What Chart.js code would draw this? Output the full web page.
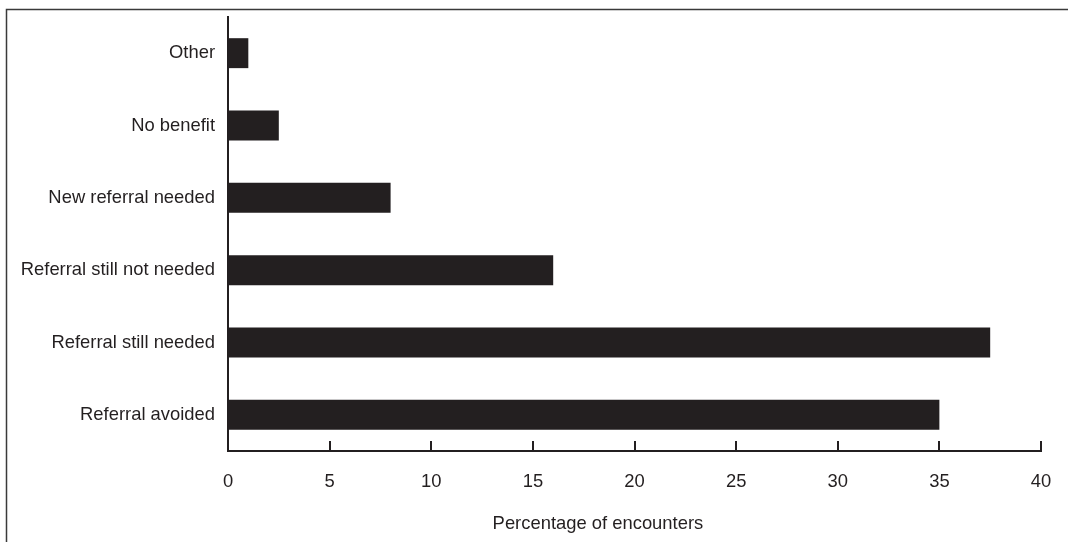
<!DOCTYPE html>
<html>
<head>
<meta charset="utf-8">
<script src="https://cdn.jsdelivr.net/npm/chart.js@4/dist/chart.umd.min.js"></script>
<style>
  html, body { margin: 0; padding: 0; background: #fff; }
  #wrap { width: 1068px; height: 542px; position: relative; }
</style>
</head>
<body>
<div id="wrap"><canvas id="c" width="1068" height="542"></canvas></div>
<script>
const categories = ["Other", "No benefit", "New referral needed", "Referral still not needed", "Referral still needed", "Referral avoided"];
const percentages = [1, 2.5, 8, 16, 37.5, 35];
const xTickValues = [0, 5, 10, 15, 20, 25, 30, 35, 40];
const xAxisTitle = "Percentage of encounters";

const INK = "#231f20";
const FONT = "'Liberation Sans', Arial, Helvetica, sans-serif";

const decorPlugin = {
  id: "decor",
  beforeDraw(chart) {
    const ctx = chart.ctx;
    ctx.save();
    ctx.strokeStyle = "#3a3a3a";
    ctx.lineWidth = 1.5;
    ctx.beginPath();
    ctx.moveTo(6.5, 542);
    ctx.lineTo(6.5, 9.5);
    ctx.lineTo(1068, 9.5);
    ctx.stroke();
    ctx.restore();
  },
  afterDraw(chart) {
    const ctx = chart.ctx;
    const xs = chart.scales.x;
    const area = chart.chartArea;
    ctx.save();
    ctx.strokeStyle = INK;
    ctx.lineWidth = 2;
    xs.ticks.forEach((t, i) => {
      const px = Math.round(xs.getPixelForTick(i));
      ctx.beginPath();
      ctx.moveTo(px, area.bottom);
      ctx.lineTo(px, area.bottom - 10);
      ctx.stroke();
    });
    ctx.fillStyle = INK;
    ctx.font = "18.4px " + FONT;
    ctx.textAlign = "center";
    ctx.textBaseline = "middle";
    ctx.fillText(xAxisTitle, area.left + (area.right - area.left) * 0.455, 524);
    ctx.restore();
  }
};

new Chart(document.getElementById("c"), {
  type: "bar",
  data: {
    labels: categories,
    datasets: [{
      data: percentages,
      backgroundColor: INK,
      borderWidth: 0,
      barPercentage: 0.414,
      categoryPercentage: 1.0
    }]
  },
  options: {
    indexAxis: "y",
    responsive: false,
    animation: false,
    devicePixelRatio: 1,
    layout: { padding: { top: 17, right: 27, left: 0, bottom: 0 } },
    plugins: { legend: { display: false }, tooltip: { enabled: false }, title: { display: false } },
    scales: {
      x: {
        min: 0, max: 40,
        afterBuildTicks(scale) { scale.ticks = xTickValues.map(v => ({ value: v })); },
        afterFit(scale) {
          scale.height = 542 - 451;
          scale.paddingLeft = 0; scale.paddingRight = 0;
        },
        grid: { display: true, drawOnChartArea: false, drawTicks: false, color: "transparent" },
        border: { display: true, color: INK, width: 2 },
        ticks: { color: INK, font: { family: FONT, size: 18.4 }, padding: 20, maxRotation: 0 }
      },
      y: {
        afterFit(scale) {
          scale.width = 228;
          scale.paddingTop = 0; scale.paddingBottom = 0;
        },
        grid: { display: true, drawOnChartArea: false, drawTicks: false, color: "transparent" },
        border: { display: true, color: INK, width: 2 },
        ticks: { color: INK, font: { family: FONT, size: 18.4 }, padding: 13 }
      }
    }
  },
  plugins: [decorPlugin]
});
</script>
</body>
</html>
